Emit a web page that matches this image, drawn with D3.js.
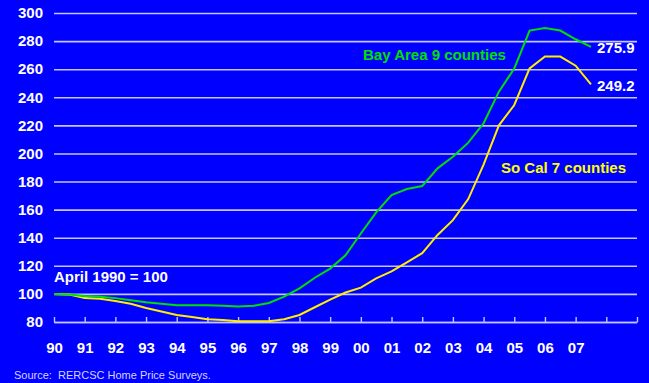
<!DOCTYPE html>
<html>
<head>
<meta charset="utf-8">
<script src="https://cdn.jsdelivr.net/npm/d3@7"></script>
<style>
  html, body { margin: 0; padding: 0; background: #0000ff; }
  svg { display: block; font-family: "Liberation Sans", Arial, sans-serif; }
</style>
</head>
<body>
<svg id="chart" width="649" height="383"></svg>
<script>
// Half-year observation points, 1990 through mid-2007
const periods = d3.range(0, 36).map(i => 1990 + i * 0.5);

// Home price index, April 1990 = 100
const bayArea = [
  100, 99.5, 98.5, 98, 97, 95.5, 94, 93, 92, 92,
  92, 91.5, 91, 91.5, 93.5, 98, 104, 111.5, 118, 127.5,
  143, 158, 170.4, 174.7, 176.8, 189.4, 197.7, 207.7, 221.5, 244,
  260.5, 287.5, 289.3, 287.5, 281.3, 275.9
];
const soCal = [
  100, 99.5, 97, 96.5, 95, 93, 90, 87.5, 85, 83.5,
  82, 81.5, 80.5, 80.5, 80.5, 82, 85, 90.5, 96, 101,
  104.5, 111, 116, 122.5, 129, 142, 152.5, 167.5, 192, 220,
  234.5, 260.5, 269, 269, 262.5, 249.2
];

const yTicks = [80, 100, 120, 140, 160, 180, 200, 220, 240, 260, 280, 300];
const xTicks = d3.range(1990, 2010);
const xLabels = d3.range(1990, 2008);

const svg = d3.select("#chart");
const x = d3.scaleLinear().domain([1990, 2009]).range([54, 637]);
const y = d3.scaleLinear().domain([80, 300]).range([322, 13]);

const gridColor = "#c4c4ff";

// Value axis with full-width gridlines
const yAxis = svg.append("g")
  .attr("transform", `translate(${x(1990)},0)`)
  .call(d3.axisLeft(y).tickValues(yTicks).tickSize(-(x(2009) - x(1990))).tickPadding(11).tickFormat(d3.format("d")));
yAxis.select(".domain").remove();
yAxis.selectAll(".tick line").attr("stroke", gridColor).attr("stroke-width", 1.6);
yAxis.selectAll(".tick text")
  .attr("fill", "#ffffff").attr("font-size", 15).attr("font-weight", "bold");

// Year axis: baseline with short upward ticks
const xAxis = svg.append("g")
  .attr("transform", `translate(0,${y(80)})`)
  .call(d3.axisBottom(x).tickValues(xTicks).tickSizeInner(-5).tickSizeOuter(0).tickPadding(20)
    .tickFormat(d => xLabels.includes(d) ? String(d % 100).padStart(2, "0") : ""));
xAxis.select(".domain").attr("stroke", gridColor).attr("stroke-width", 1.6);
xAxis.selectAll(".tick line").attr("stroke", gridColor).attr("stroke-width", 1.4);
xAxis.selectAll(".tick text")
  .attr("fill", "#ffffff").attr("font-size", 15).attr("font-weight", "bold");

const line = d3.line().x((d, i) => x(periods[i])).y(d => y(d));

svg.append("path").datum(soCal)
  .attr("d", line).attr("fill", "none")
  .attr("stroke", "#ffee00").attr("stroke-width", 2);
svg.append("path").datum(bayArea)
  .attr("d", line).attr("fill", "none")
  .attr("stroke", "#00e000").attr("stroke-width", 2);

// Series labels
svg.append("text").attr("x", 363).attr("y", 60)
  .attr("fill", "#00e000").attr("font-size", 15).attr("font-weight", "bold")
  .text("Bay Area 9 counties");
svg.append("text").attr("x", 501).attr("y", 173)
  .attr("fill", "#ffff00").attr("font-size", 15).attr("font-weight", "bold")
  .text("So Cal 7 counties");

// End-point values
const last = periods.length - 1;
svg.append("text").attr("x", x(periods[last]) + 6).attr("y", y(bayArea[last]) + 6)
  .attr("fill", "#ffffff").attr("font-size", 15).attr("font-weight", "bold")
  .text(d3.format(".1f")(bayArea[last]));
svg.append("text").attr("x", x(periods[last]) + 6).attr("y", y(soCal[last]) + 7)
  .attr("fill", "#ffffff").attr("font-size", 15).attr("font-weight", "bold")
  .text(d3.format(".1f")(soCal[last]));

svg.append("text").attr("x", 54).attr("y", 282)
  .attr("fill", "#ffffff").attr("font-size", 15).attr("font-weight", "bold")
  .text("April 1990 = 100");

svg.append("text").attr("x", 14).attr("y", 379)
  .attr("fill", "#d4d4ff").attr("font-size", 11)
  .attr("xml:space", "preserve")
  .text("Source:  RERCSC Home Price Surveys.");
</script>
</body>
</html>
